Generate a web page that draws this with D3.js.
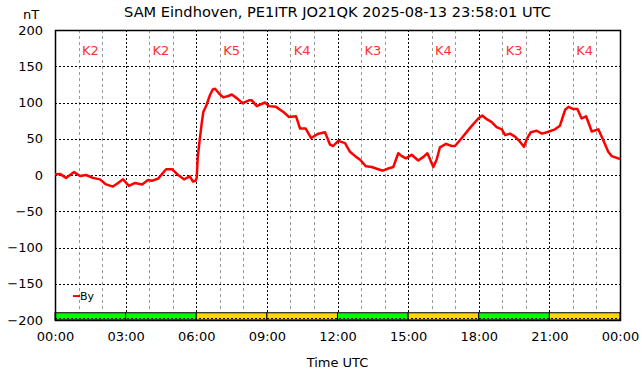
<!DOCTYPE html>
<head>
    <meta charset="utf-8">
    <script src="https://d3js.org/d3.v7.min.js"></script>
    <style>
        html, body { margin: 0; padding: 0; background: #fff; }
        svg { display: block; }
        text { font-family: "DejaVu Sans", sans-serif; fill: #000; }
        .grid-major line { stroke: #000; stroke-width: 1; stroke-dasharray: 2,2; }
        .grid-minor line { stroke: #999; stroke-width: 1; stroke-dasharray: 3,3; }
        .axis path, .axis line { display: none; }
        .axis text { font-size: 13px; }
    </style>
</head>

<body>
<svg width="642" height="376"></svg>
<script>
    // hours since 00:00 UTC and By in nT
    var hours = [0, 0.21, 0.47, 0.81, 1.06, 1.32, 1.61, 1.91, 2.17, 2.46, 2.68, 2.89, 3.14, 3.40, 3.70,
        3.95, 4.12, 4.38, 4.72, 4.97, 5.23, 5.48, 5.73, 5.86, 5.97, 6.02, 6.06, 6.13, 6.23, 6.30, 6.44,
        6.58, 6.70, 6.80, 6.98, 7.15, 7.36, 7.51, 7.76, 7.97, 8.24, 8.36, 8.57, 8.71, 8.92, 9.09, 9.39,
        9.70, 9.94, 10.24, 10.41, 10.65, 10.88, 11.19, 11.47, 11.68, 11.82, 12.03, 12.32, 12.53, 12.79,
        12.96, 13.21, 13.45, 13.73, 13.92, 14.16, 14.37, 14.58, 14.73, 14.91, 15.15, 15.43, 15.65, 15.82,
        16.07, 16.21, 16.35, 16.61, 16.85, 16.99, 17.28, 17.63, 17.98, 18.15, 18.34, 18.55, 18.76, 18.98,
        19.12, 19.33, 19.54, 19.75, 19.92, 20.06, 20.21, 20.46, 20.68, 20.89, 21.24, 21.45, 21.67, 21.81,
        22.02, 22.19, 22.37, 22.56, 22.80, 23.08, 23.29, 23.50, 23.65, 24.0];
    var by = [1, 1.5, -4, 4, -1.5, 0, -4, -6, -13, -16, -11, -6, -15, -11, -13,
        -7, -8, -5, 8, 8, 0, -6, -2, -9, -8, -4, 23, 44, 71, 87, 97,
        110, 118, 119, 112, 107, 109, 111, 105, 99, 103, 103, 95, 97, 100, 95, 94,
        87, 80, 81, 64, 64, 51, 57, 59, 42, 40, 47, 44, 32, 25,
        21, 12, 11, 8, 6, 9, 11, 30, 26, 23, 28, 20, 25, 30,
        11, 21, 38, 43, 40, 40, 51, 65, 78, 82, 77, 73, 66, 63,
        55, 57, 53, 46, 39, 51, 59, 61, 57, 59, 63, 68, 90, 94,
        91, 91, 78, 81, 60, 63, 48, 32, 26, 22];

    // planetary K index per 3 hour block
    var kIndex = [2, 2, 5, 4, 3, 4, 3, 4];

    var title = "SAM Eindhoven, PE1ITR JO21QK 2025-08-13 23:58:01 UTC";
    var yTicks = [200, 150, 100, 50, 0, -50, -100, -150, -200];
    var xTicks = [0, 3, 6, 9, 12, 15, 18, 21, 24];

    var margin = {top: 30, right: 22, bottom: 56, left: 55};
    var width = 642 - margin.left - margin.right;
    var height = 376 - margin.top - margin.bottom;

    var svg = d3.select("svg");
    var g = svg.append("g")
        .attr("transform", "translate(" + margin.left + "," + margin.top + ")");

    var x = d3.scaleLinear().domain([0, 24]).range([0, width]);
    var y = d3.scaleLinear().domain([-200, 200]).range([height, 0]);

    // minor grid every hour
    g.append("g")
        .attr("class", "grid-minor")
        .selectAll("line")
        .data(d3.range(1, 24).filter(function(h) { return h % 3 != 0; }))
        .enter().append("line")
        .attr("x1", function(d) { return Math.round(x(d)) + 0.5; })
        .attr("x2", function(d) { return Math.round(x(d)) + 0.5; })
        .attr("y1", 0)
        .attr("y2", y(-190));

    // major grid
    g.append("g")
        .attr("class", "grid-major")
        .selectAll("line")
        .data(xTicks.slice(1, -1))
        .enter().append("line")
        .attr("x1", function(d) { return Math.round(x(d)) + 0.5; })
        .attr("x2", function(d) { return Math.round(x(d)) + 0.5; })
        .attr("y1", 0)
        .attr("y2", height);

    g.append("g")
        .attr("class", "grid-major")
        .selectAll("line")
        .data(yTicks.slice(1, -1))
        .enter().append("line")
        .attr("x1", 0)
        .attr("x2", width)
        .attr("y1", function(d) { return Math.round(y(d)) + 0.5; })
        .attr("y2", function(d) { return Math.round(y(d)) + 0.5; });

    // K index bar along the bottom
    g.append("g")
        .selectAll("rect")
        .data(kIndex)
        .enter().append("rect")
        .attr("x", function(d, i) { return x(i * 3); })
        .attr("width", function(d, i) { return x(i * 3 + 3) - x(i * 3); })
        .attr("y", y(-190))
        .attr("height", y(-200) - y(-190))
        .attr("fill", function(d) { return d < 4 ? "#00ff00" : "#ffd700"; })
        .attr("stroke", "#000")
        .attr("stroke-width", 1);

    g.append("g")
        .attr("class", "grid-major")
        .append("line")
        .attr("x1", 0).attr("x2", width)
        .attr("y1", height - 1.5).attr("y2", height - 1.5);

    // K labels
    g.append("g")
        .selectAll("text")
        .data(kIndex)
        .enter().append("text")
        .attr("x", function(d, i) { return x(i * 3 + 1.5); })
        .attr("y", 25)
        .attr("text-anchor", "middle")
        .style("font-size", "13px")
        .style("fill", "#ff3030")
        .text(function(d) { return "K" + d; });

    // frame
    g.append("rect")
        .attr("x", 0.5).attr("y", 0.5)
        .attr("width", width).attr("height", height)
        .attr("fill", "none")
        .attr("stroke", "#000")
        .attr("stroke-width", 1.5);

    // By line
    var line = d3.line()
        .x(function(d) { return x(d[0]); })
        .y(function(d) { return y(d[1]); });

    g.append("path")
        .datum(d3.zip(hours, by))
        .attr("d", line)
        .attr("fill", "none")
        .attr("stroke", "#ff0000")
        .attr("stroke-width", 2.5)
        .attr("stroke-linejoin", "round");

    // axes
    g.append("g")
        .attr("class", "axis")
        .attr("transform", "translate(-6,0)")
        .call(d3.axisLeft(y).tickValues(yTicks).tickSize(0).tickPadding(6));

    g.append("g")
        .attr("class", "axis")
        .attr("transform", "translate(0," + height + ")")
        .call(d3.axisBottom(x).tickValues(xTicks).tickSize(0).tickPadding(12)
            .tickFormat(function(d) { return d3.format("02")(d % 24) + ":00"; }));

    // legend
    g.append("line")
        .attr("x1", 18).attr("x2", 25)
        .attr("y1", y(-167)).attr("y2", y(-167))
        .attr("stroke", "#ff0000")
        .attr("stroke-width", 2);
    g.append("text")
        .attr("x", 25)
        .attr("y", y(-167))
        .attr("dy", "0.35em")
        .style("font-size", "11px")
        .text("By");

    // titles
    svg.append("text")
        .attr("x", margin.left + width / 2)
        .attr("y", 17)
        .attr("text-anchor", "middle")
        .style("font-size", "14.6px")
        .text(title);

    svg.append("text")
        .attr("x", 31)
        .attr("y", 19)
        .attr("text-anchor", "middle")
        .style("font-size", "13px")
        .text("nT");

    svg.append("text")
        .attr("x", margin.left + width / 2)
        .attr("y", 367)
        .attr("text-anchor", "middle")
        .style("font-size", "13px")
        .text("Time UTC");
</script>
</body>
